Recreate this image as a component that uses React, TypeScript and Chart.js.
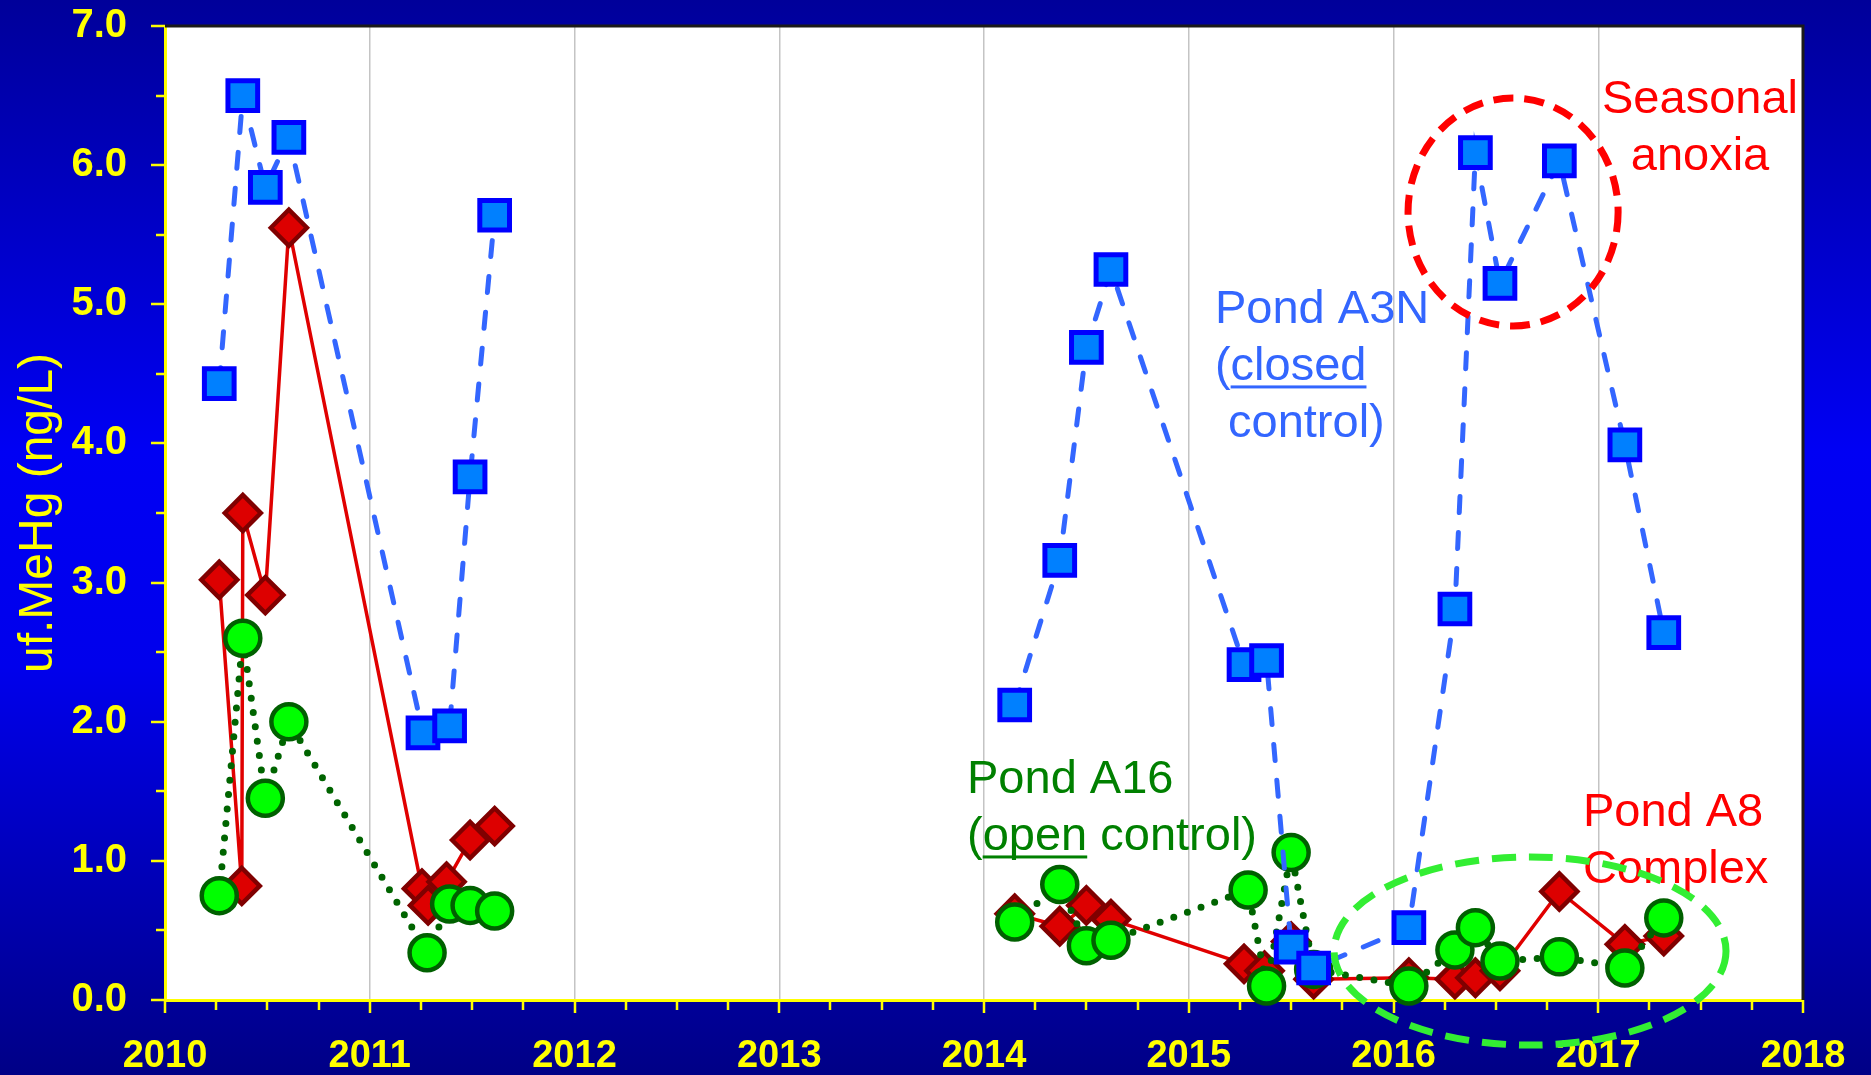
import React, { useEffect, useRef } from 'react';
import { Chart, registerables } from 'chart.js';

Chart.register(...registerables);

// ---------- data (decimal year, uf.MeHg ng/L) ----------
// Pond A3N (closed control)
const a3nDates = [2010.265, 2010.38, 2010.49, 2010.605, 2011.26, 2011.39, 2011.49, 2011.61, 2012.9,
  2014.15, 2014.37, 2014.5, 2014.62, 2015.27, 2015.38, 2015.5, 2015.61,
  2016.075, 2016.3, 2016.4, 2016.52, 2016.81, 2017.13, 2017.32];
const a3nValues = [4.43, 6.5, 5.84, 6.2, 1.92, 1.97, 3.76, 5.64, null,
  2.12, 3.16, 4.69, 5.25, 2.41, 2.44, 0.38, 0.23,
  0.52, 2.81, 6.09, 5.15, 6.03, 3.99, 2.64];

// Pond A16 (open control)
const a16Dates = [2010.265, 2010.38, 2010.49, 2010.605, 2011.28, 2011.39, 2011.49, 2011.61, 2012.9,
  2014.15, 2014.37, 2014.5, 2014.62, 2015.29, 2015.38, 2015.5, 2015.61,
  2016.075, 2016.3, 2016.4, 2016.52, 2016.81, 2017.13, 2017.32];
const a16Values = [0.75, 2.6, 1.45, 2.0, 0.34, 0.69, 0.68, 0.64, null,
  0.56, 0.83, 0.39, 0.43, 0.79, 0.1, 1.06, 0.22,
  0.1, 0.36, 0.52, 0.28, 0.31, 0.23, 0.59];

// Pond A8 Complex
const a8Dates = [2010.265, 2010.375, 2010.38, 2010.49, 2010.605, 2011.255, 2011.285, 2011.375, 2011.49, 2011.61, 2012.9,
  2014.15, 2014.37, 2014.5, 2014.62, 2015.27, 2015.37, 2015.5, 2015.61,
  2016.075, 2016.3, 2016.4, 2016.52, 2016.81, 2017.13, 2017.32];
const a8Values = [3.02, 0.82, 3.5, 2.91, 5.55, 0.8, 0.68, 0.85, 1.15, 1.25, null,
  0.62, 0.53, 0.68, 0.58, 0.26, 0.21, 0.42, 0.15,
  0.16, 0.15, 0.16, 0.21, 0.78, 0.4, 0.46];

// axis ranges / tick labels
const xMin = 2010;
const xMax = 2018;
const yMin = 0;
const yMax = 7;
const yTitle = 'uf.MeHg (ng/L)';

// ---------- annotations ----------
const FONT = '"Liberation Sans", Arial, Helvetica, sans-serif';
const YELLOW = '#FFFF00';

type Note = {
  lines: string[];
  x: number;
  y: number;
  color: string;
  align: CanvasTextAlign;
  underline?: { line: number; prefix: string; word: string };
};

const notes: Note[] = [
  { lines: ['Pond A3N', '(closed', ' control)'], x: 2015.128, y: 4.866, color: '#3366FF', align: 'left',
    underline: { line: 1, prefix: '(', word: 'closed' } },
  { lines: ['Pond A16', '(open control)'], x: 2013.917, y: 1.488, color: '#008000', align: 'left',
    underline: { line: 1, prefix: '(', word: 'open' } },
  { lines: ['Pond A8', 'Complex'], x: 2016.925, y: 1.251, color: '#FF0000', align: 'left' },
  { lines: ['Seasonal', 'anoxia'], x: 2017.497, y: 6.375, color: '#FF0000', align: 'center' },
];

const ellipses = [
  { cx: 2016.584, cy: 5.663, rx: 0.513, ry: 0.819, color: '#FF0000', dash: [20, 11] },
  { cx: 2016.667, cy: 0.352, rx: 0.957, ry: 0.676, color: '#33EE33', dash: [24, 13] },
];

const toPoints = (xs: number[], ys: (number | null)[]) => xs.map((x, i) => ({ x, y: ys[i] }));

const decorPlugin = {
  id: 'decor',
  beforeDraw(chart: any) {
    const { ctx, width, height, chartArea: a } = chart;
    ctx.save();
    const g = ctx.createLinearGradient(0, 0, 0, height);
    g.addColorStop(0, '#00009A');
    g.addColorStop(0.42, '#0000F4');
    g.addColorStop(0.62, '#0000EC');
    g.addColorStop(1, '#000086');
    ctx.fillStyle = g;
    ctx.fillRect(0, 0, width, height);
    ctx.fillStyle = '#FFFFFF';
    ctx.fillRect(a.left, a.top, a.right - a.left, a.bottom - a.top);
    ctx.restore();
  },
  beforeDatasetsDraw(chart: any) {
    const { ctx, chartArea: a, scales } = chart;
    const xs = scales.x;
    const ys = scales.y;
    ctx.save();
    // dark frame on top and right
    ctx.strokeStyle = '#1A1A1A';
    ctx.lineWidth = 3;
    ctx.beginPath();
    ctx.moveTo(a.left, a.top);
    ctx.lineTo(a.right, a.top);
    ctx.lineTo(a.right, a.bottom);
    ctx.stroke();
    // tick marks (major + minor)
    ctx.strokeStyle = YELLOW;
    ctx.lineWidth = 2.5;
    ctx.beginPath();
    for (let v = xMin; v <= xMax + 1e-9; v += 0.25) {
      const px = Math.round(xs.getPixelForValue(v));
      const major = Math.abs(v - Math.round(v)) < 1e-6;
      ctx.moveTo(px, a.bottom);
      ctx.lineTo(px, a.bottom + (major ? 13 : 10));
    }
    for (let v = yMin; v <= yMax + 1e-9; v += 0.5) {
      const py = Math.round(ys.getPixelForValue(v));
      const major = Math.abs(v - Math.round(v)) < 1e-6;
      ctx.moveTo(a.left, py);
      ctx.lineTo(a.left - (major ? 14 : 9), py);
    }
    ctx.stroke();
    ctx.restore();
  },
  afterDatasetsDraw(chart: any) {
    const { ctx, scales } = chart;
    const xs = scales.x;
    const ys = scales.y;
    ctx.save();
    ctx.font = `47px ${FONT}`;
    ctx.textBaseline = 'alphabetic';
    const lineH = 57;
    notes.forEach((n) => {
      const px = xs.getPixelForValue(n.x);
      const py = ys.getPixelForValue(n.y);
      ctx.fillStyle = n.color;
      ctx.textAlign = n.align;
      n.lines.forEach((t, i) => ctx.fillText(t, px, py + i * lineH));
      if (n.underline) {
        const u = n.underline;
        const x0 = px + ctx.measureText(u.prefix).width;
        const w = ctx.measureText(u.word).width;
        const yU = py + u.line * lineH + 7;
        ctx.fillRect(x0, yU - 1.5, w, 3);
      }
    });
    ctx.restore();
  },
  afterDraw(chart: any) {
    const { ctx, scales } = chart;
    const xs = scales.x;
    const ys = scales.y;
    ctx.save();
    ellipses.forEach((e) => {
      const cx = xs.getPixelForValue(e.cx);
      const cy = ys.getPixelForValue(e.cy);
      const rx = Math.abs(xs.getPixelForValue(e.cx + e.rx) - cx);
      const ry = Math.abs(ys.getPixelForValue(e.cy + e.ry) - cy);
      ctx.strokeStyle = e.color;
      ctx.lineWidth = 7;
      ctx.setLineDash(e.dash);
      ctx.beginPath();
      ctx.ellipse(cx, cy, rx, ry, 0, 0, Math.PI * 2);
      ctx.stroke();
    });
    ctx.restore();
  },
};

export default function App() {
  const canvasRef = useRef<HTMLCanvasElement | null>(null);

  useEffect(() => {
    const canvas = canvasRef.current;
    if (!canvas) return;
    const chart = new Chart(canvas, {
      type: 'line',
      data: {
        datasets: [
          {
            label: 'Pond A3N',
            data: toPoints(a3nDates, a3nValues),
            borderColor: '#3366FF',
            borderWidth: 5,
            borderDash: [16, 20],
            borderCapStyle: 'round',
            pointStyle: 'rect',
            pointRadius: 21,
            pointBackgroundColor: '#0080FF',
            pointBorderColor: '#0000FF',
            pointBorderWidth: 5,
            tension: 0,
            spanGaps: false,
            clip: false,
          },
          {
            label: 'Pond A16',
            data: toPoints(a16Dates, a16Values),
            borderColor: '#006400',
            borderWidth: 7,
            borderDash: [0, 14.5],
            borderCapStyle: 'round',
            pointStyle: 'circle',
            pointRadius: 17.5,
            pointBackgroundColor: '#00FF00',
            pointBorderColor: '#006000',
            pointBorderWidth: 4.5,
            tension: 0,
            spanGaps: false,
            clip: false,
          },
          {
            label: 'Pond A8',
            data: toPoints(a8Dates, a8Values),
            borderColor: '#E00000',
            borderWidth: 3.5,
            pointStyle: 'rectRot',
            pointRadius: 18,
            pointBackgroundColor: '#DD0000',
            pointBorderColor: '#800000',
            pointBorderWidth: 4.5,
            tension: 0,
            spanGaps: false,
            clip: false,
          },
        ],
      } as any,
      options: {
        animation: false,
        responsive: false,
        maintainAspectRatio: false,
        events: [],
        layout: { autoPadding: false, padding: { left: 0, top: 26, right: 68, bottom: 0 } },
        plugins: { legend: { display: false }, tooltip: { enabled: false }, title: { display: false } },
        scales: {
          x: {
            type: 'linear',
            min: xMin,
            max: xMax,
            afterFit: (s: any) => {
              s.height = 75;
              s.paddingLeft = 0;
              s.paddingRight = 0;
              s.paddingTop = 0;
              s.paddingBottom = 0;
            },
            ticks: {
              stepSize: 1,
              color: YELLOW,
              padding: 34,
              font: { family: FONT, size: 38, weight: 'bold' },
              callback: (v: any) => String(v),
            },
            grid: { color: '#C4C4C4', lineWidth: 1.5, drawTicks: false },
            border: { color: YELLOW, width: 3 },
          },
          y: {
            type: 'linear',
            min: yMin,
            max: yMax,
            afterFit: (s: any) => {
              s.width = 165;
              s.paddingLeft = 0;
              s.paddingRight = 0;
              s.paddingTop = 0;
              s.paddingBottom = 0;
            },
            ticks: {
              stepSize: 1,
              color: YELLOW,
              padding: 38,
              font: { family: FONT, size: 40, weight: 'bold' },
              callback: (v: any) => Number(v).toFixed(1),
            },
            grid: { display: false, drawTicks: false },
            border: { color: YELLOW, width: 3 },
            title: {
              display: true,
              text: yTitle,
              color: YELLOW,
              padding: { top: 10, bottom: 0 },
              font: { family: FONT, size: 48, weight: 'normal' },
            },
          },
        },
      } as any,
      plugins: [decorPlugin],
    });
    return () => chart.destroy();
  }, []);

  return (
    <div style={{ position: 'fixed', left: 0, top: 0, width: 1871, height: 1075 }}>
      <canvas ref={canvasRef} width={1871} height={1075} style={{ display: 'block', width: 1871, height: 1075 }} />
    </div>
  );
}
